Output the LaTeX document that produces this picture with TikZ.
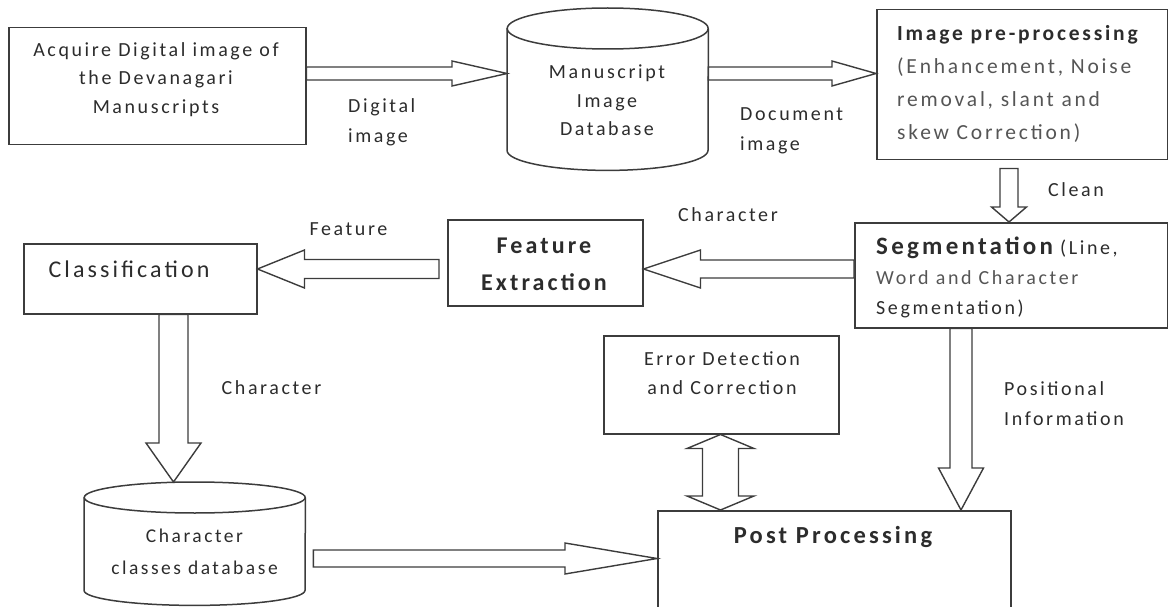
\documentclass[tikz,border=0pt]{standalone}
\usepackage{fontspec}
\setmainfont{Carlito}[LetterSpace=13]
\usetikzlibrary{calc}

\definecolor{ink}{HTML}{3C3C3C}
\definecolor{txt}{HTML}{2C2C2C}
\definecolor{soft}{HTML}{555555}

\newcommand\fsz[2]{\fontsize{#1}{#2}\selectfont}

% block arrow: start, tip, shaft half-width, head half-width, head length
\newcommand\blockarrow[5]{%
  \coordinate (ba-s) at #1;
  \coordinate (ba-t) at #2;
  \coordinate (ba-h) at ($(ba-t)!#5pt!(ba-s)$);
  \draw[blk] ($(ba-s)!#3pt!90:(ba-t)$) -- ($(ba-h)!#3pt!90:(ba-t)$)
    -- ($(ba-h)!#4pt!90:(ba-t)$) -- (ba-t)
    -- ($(ba-h)!#4pt!-90:(ba-t)$) -- ($(ba-h)!#3pt!-90:(ba-t)$)
    -- ($(ba-s)!#3pt!-90:(ba-t)$) -- cycle;}

% double-headed block arrow: tip a, tip b, shaft half-width, head half-width, head length
\newcommand\dblarrow[5]{%
  \coordinate (da-a) at #1;
  \coordinate (da-b) at #2;
  \coordinate (da-ha) at ($(da-a)!#5pt!(da-b)$);
  \coordinate (da-hb) at ($(da-b)!#5pt!(da-a)$);
  \draw[blk] (da-a) -- ($(da-ha)!#4pt!90:(da-b)$) -- ($(da-ha)!#3pt!90:(da-b)$)
    -- ($(da-hb)!#3pt!-90:(da-a)$) -- ($(da-hb)!#4pt!-90:(da-a)$) -- (da-b)
    -- ($(da-hb)!#4pt!90:(da-a)$) -- ($(da-hb)!#3pt!90:(da-a)$)
    -- ($(da-ha)!#3pt!-90:(da-b)$) -- ($(da-ha)!#4pt!-90:(da-b)$) -- cycle;}

% database drum drawn over an invisible node: name, x radius, top y radius, bottom y radius
\newcommand\drum[4]{%
  \draw[edge] ($(#1.north)+(0,#3)$) ellipse [x radius=#2pt, y radius=#3pt];
  \draw[edge] ($(#1.north west)+(0,#3)$) -- ($(#1.south west)+(0,-#4)$)
    arc [start angle=180, end angle=360, x radius=#2pt, y radius=#4pt]
    -- ($(#1.north east)+(0,#3)$);}

\tikzset{
  frame/.style={draw=ink, line width=1.5pt, rectangle, inner sep=0pt, anchor=north west},
  area/.style={draw=none, rectangle, inner sep=0pt, anchor=north west},
  edge/.style={draw=ink, line width=1.5pt},
  blk/.style={draw=ink, line width=1.4pt, fill=white, line join=miter},
  body/.style={inner sep=0pt, text=txt, align=center, font={\fsz{20}{28.5}}},
  lbl/.style={inner sep=0pt, text=txt, align=left, font={\fsz{20}{30}}},
}

\begin{document}
\begin{tikzpicture}[x=1pt, y=-1pt]
\useasboundingbox (0,0) rectangle (1168,607);
\clip (0,0) rectangle (1168,607);

% boxes and drums
\node[frame, minimum width=297pt, minimum height=117pt] (acq) at (8,27) {};
\node[area, minimum width=201pt, minimum height=162pt] (dbA) at (507,8) {};
\node[frame, minimum width=291pt, minimum height=150pt] (pre) at (876,9) {};
\node[frame, minimum width=313pt, minimum height=105pt] (seg) at (854,222) {};
\node[frame, minimum width=195pt, minimum height=86pt] (feat) at (447,219) {};
\node[frame, minimum width=233pt, minimum height=70pt] (cls) at (23,243) {};
\node[area, minimum width=221pt, minimum height=123pt] (dbB) at (84,482) {};
\node[frame, minimum width=235pt, minimum height=98pt] (err) at (603,335) {};
\node[frame, minimum width=353pt, minimum height=110pt] (post) at (657,510) {};

\drum{dbA}{100.5}{20.5}{20}
\drum{dbB}{110.5}{15.5}{15}

% texts inside the shapes
\node[body] (acqT) at (156,79.5) {Acquire Digital image of\\the Devanagari\\Manuscripts};
\node[body] (dbAT) at (607,100.5) {Manuscript\\Image\\Database};
\node[body, anchor=west, align=left, font={\fsz{21.5}{33}}] (preT) at (897,83.5)
  {\textbf{Image pre-processing}\\\textcolor{soft}{(Enhancement, Noise}\\\textcolor{soft}{removal, slant and}\\\textcolor{soft}{skew Correction)}};
\node[body, anchor=west, align=left, font={\fsz{20}{30}}] (segT) at (876,277)
  {{\fsz{25}{30}\bfseries Segmentation} (Line,\\\textcolor{soft}{Word and Character}\\Segmentation)};
\node[body, font={\fsz{24}{37}\bfseries}] (featT) at (544,264) {Feature\\Extraction};
\node[body, font={\fsz{24}{30}}] (clsT) at (129,269) {Classification};
\node[body, font={\fsz{20}{29}}] (errT) at (722,373) {Error Detection\\and Correction};
\node[body, font={\fsz{24.5}{30}\bfseries}] (postT) at (833,537) {Post Processing};
\node[body, font={\fsz{19.5}{32}}] (dbBT) at (194.5,552) {Character\\classes database};

% block arrows
\blockarrow{($(acq.north east)+(0,46.5)$)}{($(dbA.north west)+(0,65.5)$)}{6.5}{12.5}{55}
\blockarrow{($(dbA.north east)+(0,65.5)$)}{($(pre.north west)+(0,64.5)$)}{6.5}{12.5}{44}
\blockarrow{($(pre.south west)+(133,8)$)}{($(seg.north west)+(155,0)$)}{9}{17.5}{15}
\blockarrow{($(seg.north west)+(0,47)$)}{($(feat.north east)+(0,50)$)}{9}{19}{57}
\blockarrow{($(feat.north west)+(-8,50)$)}{($(cls.north east)+(0,26)$)}{9.5}{19}{47}
\blockarrow{($(cls.south west)+(150.5,0)$)}{($(dbB.north west)+(89.5,0)$)}{14.5}{27.5}{39}
\blockarrow{($(dbB.north east)+(8,76.5)$)}{($(post.north west)+(0,48.5)$)}{8.5}{15.5}{92}
\blockarrow{($(seg.south west)+(107,0)$)}{($(post.north west)+(304,0)$)}{11}{22.5}{42}
\dblarrow{($(err.south west)+(117.5,0)$)}{($(post.north west)+(63.5,0)$)}{18}{33.5}{14}

% connector labels
\node[lbl, anchor=west] (lDig) at (348,122) {Digital\\image};
\node[lbl, anchor=west] (lDoc) at (740,131) {Document\\image};
\node[lbl, anchor=west] (lClean) at (1048,190) {Clean};
\node[lbl] (lChar1) at (728,215) {Character};
\node[lbl] (lFeat) at (348.5,229) {Feature};
\node[lbl] (lChar2) at (271.5,388) {Character};
\node[lbl, anchor=west] (lPos) at (1004,404) {Positional\\Information};
\end{tikzpicture}
\end{document}
